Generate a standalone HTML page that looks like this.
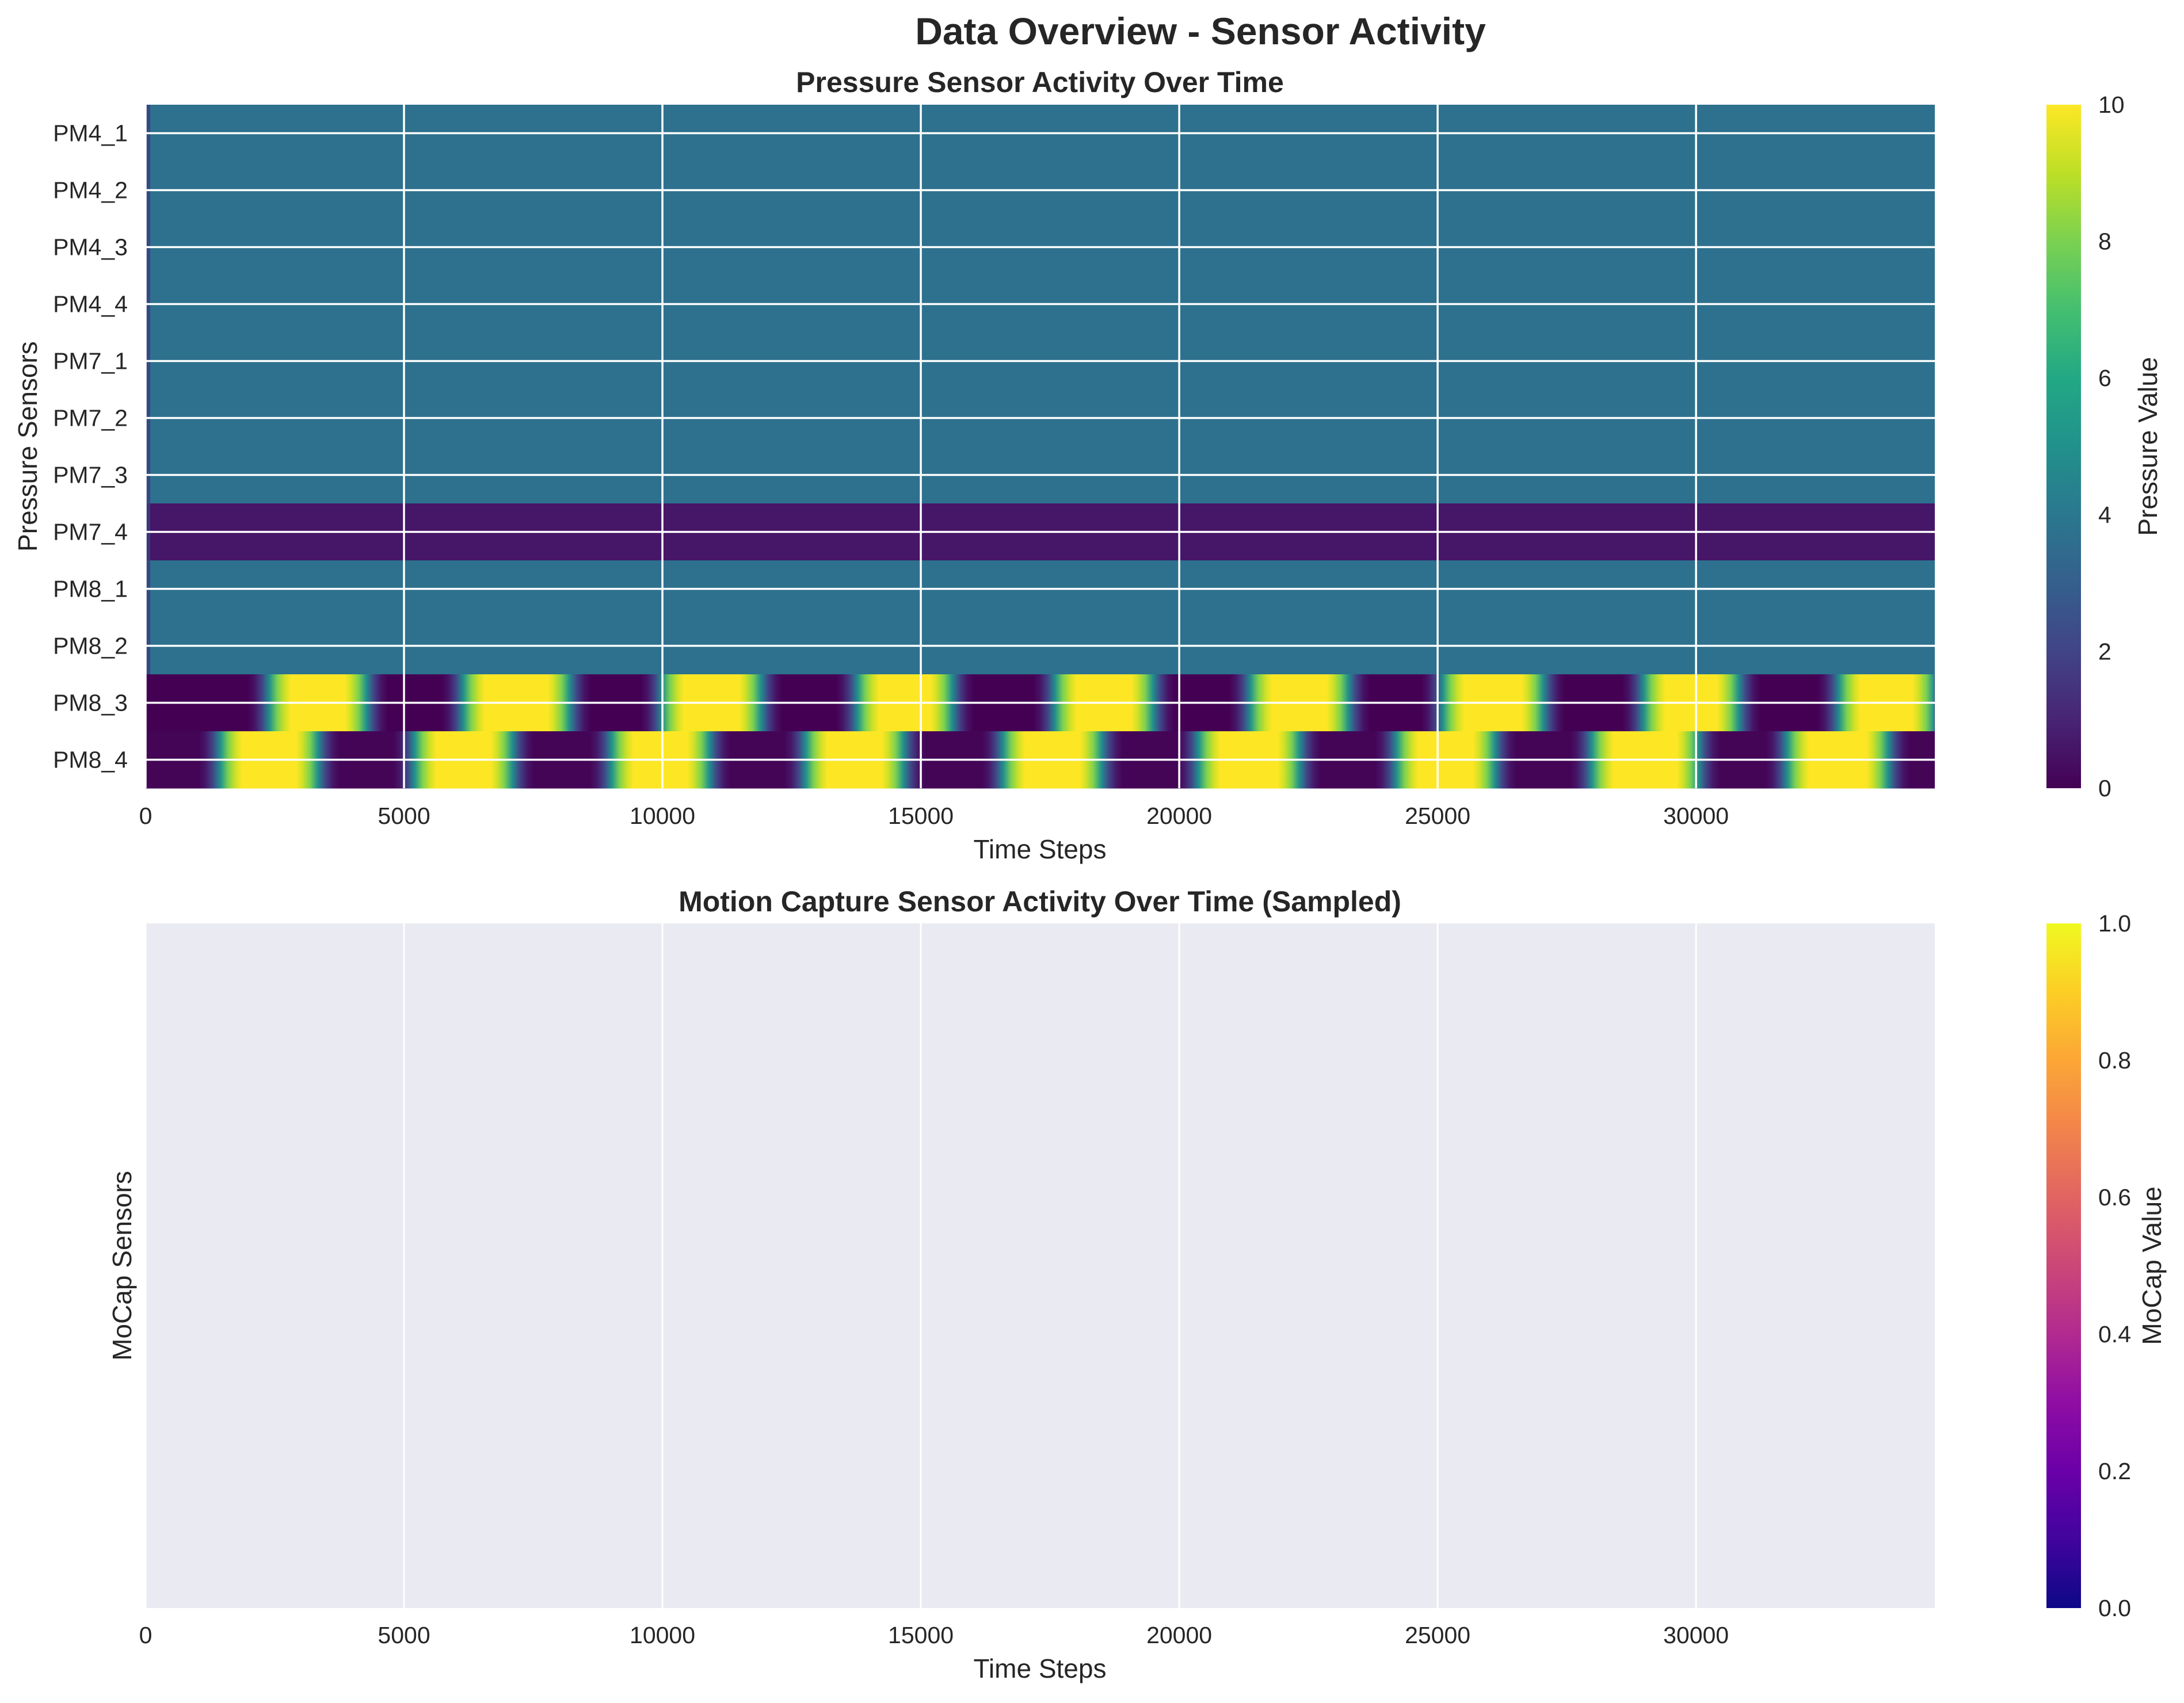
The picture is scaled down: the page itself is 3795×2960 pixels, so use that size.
<!DOCTYPE html>
<html><head><meta charset="utf-8"><style>
html,body{margin:0;padding:0;background:#fff;}
svg text{font-family:"Liberation Sans",sans-serif;fill:#262626;}
</style></head><body>
<svg id="fig" xmlns="http://www.w3.org/2000/svg" width="3795" height="2955" viewBox="0 0 3795 2955">
<defs>
<linearGradient id="viridisBar" x1="0" y1="1" x2="0" y2="0">
<stop offset="0" stop-color="#440154"/><stop offset="0.1" stop-color="#482475"/><stop offset="0.2" stop-color="#414487"/><stop offset="0.3" stop-color="#355f8d"/><stop offset="0.4" stop-color="#2a788e"/><stop offset="0.5" stop-color="#21918c"/><stop offset="0.6" stop-color="#22a884"/><stop offset="0.7" stop-color="#44bf70"/><stop offset="0.8" stop-color="#7ad151"/><stop offset="0.9" stop-color="#bddf26"/><stop offset="1" stop-color="#fde725"/>
</linearGradient>
<linearGradient id="plasmaBar" x1="0" y1="1" x2="0" y2="0">
<stop offset="0" stop-color="#0d0887"/><stop offset="0.1" stop-color="#41049d"/><stop offset="0.2" stop-color="#6a00a8"/><stop offset="0.3" stop-color="#8f0da4"/><stop offset="0.4" stop-color="#b12a90"/><stop offset="0.5" stop-color="#cc4778"/><stop offset="0.6" stop-color="#e16462"/><stop offset="0.7" stop-color="#f2844b"/><stop offset="0.8" stop-color="#fca636"/><stop offset="0.9" stop-color="#fcce25"/><stop offset="1" stop-color="#f0f921"/>
</linearGradient>
</defs>
<text x="2086" y="77" text-anchor="middle" font-size="66" font-weight="bold">Data Overview - Sensor Activity</text>
<text x="1807" y="160" text-anchor="middle" font-size="50" font-weight="bold">Pressure Sensor Activity Over Time</text>
<text x="1807" y="1584" text-anchor="middle" font-size="50" font-weight="bold">Motion Capture Sensor Activity Over Time (Sampled)</text>
<g id="topG"></g>
<g id="botG"></g>
<g id="cbars"></g>
</svg>
<script>
const sensors = ["PM4_1","PM4_2","PM4_3","PM4_4","PM7_1","PM7_2","PM7_3","PM7_4","PM8_1","PM8_2","PM8_3","PM8_4"];
const baseValues = [3.7,3.7,3.7,3.7,3.7,3.7,3.7,0.6,3.7,3.7,0,0];
const pm83Rises = [2400,6150,10000,13780,17600,21380,25100,28990,32770];
const pm83Falls = [4270,8200,11900,15600,19490,23270,27040,30820,34600];
const pm84Rises = [1450,5210,9020,12780,16600,20380,24210,27990,31770];
const pm84Falls = [3330,7090,10900,14660,18490,22320,26100,30040,33710];
const xTicks = [0,5000,10000,15000,20000,25000,30000];
const pressureTicks = [0,2,4,6,8,10];
const mocapTicks = [0,0.2,0.4,0.6,0.8,1.0];
const tMax = 34620, pMax = 10;

const NS = "http://www.w3.org/2000/svg";
const L = 253, R = 3362, T1 = 182, B1 = 1370, T2 = 1605, B2 = 2795;
const xs = t => L + (t / tMax) * (R - L);
const rowH = (B1 - T1) / sensors.length;
const yRow = i => T1 + i * rowH;
function mk(tag, attrs, parent) { const e = document.createElementNS(NS, tag); for (const k in attrs) e.setAttribute(k, attrs[k]); parent.appendChild(e); return e; }
const vir = ["#440154","#482475","#414487","#355f8d","#2a788e","#21918c","#22a884","#44bf70","#7ad151","#bddf26","#fde725"];
function hex(c){return [parseInt(c.slice(1,3),16),parseInt(c.slice(3,5),16),parseInt(c.slice(5,7),16)];}
function viridis(v){ let f=Math.max(0,Math.min(1,v/pMax))*10; let i=Math.min(9,Math.floor(f)); let a=hex(vir[i]),b=hex(vir[i+1]); let u=f-i; return "rgb("+a.map((x,k)=>Math.round(x+(b[k]-x)*u)).join(",")+")"; }

const svgEl = document.getElementById("fig");
const defsEl = svgEl.querySelector("defs");
const topG = document.getElementById("topG");
const rampHalf = 420;
const rampLevels = [0,0.05,0.2,0.5,0.8,0.93,1];
const rampPos = [-1,-0.7,-0.35,0,0.35,0.7,1];
function pulseGradient(id, rises, falls, low) {
  const g = mk("linearGradient", {id: id, gradientUnits: "userSpaceOnUse", x1: L, y1: 0, x2: R, y2: 0}, defsEl);
  const stops = [];
  stops.push([L, low]);
  for (let k = 0; k < rises.length; k++) {
    rampPos.forEach((p, j) => stops.push([xs(rises[k] + p * rampHalf), low + (pMax - low) * rampLevels[j]]));
    rampPos.forEach((p, j) => stops.push([xs(falls[k] + p * rampHalf), low + (pMax - low) * rampLevels[rampLevels.length - 1 - j]]));
  }
  stops.push([R, stops[stops.length - 1][1]]);
  stops.forEach(s => { const off = Math.max(0, Math.min(1, (s[0] - L) / (R - L))); mk("stop", {offset: off, "stop-color": viridis(s[1])}, g); });
  return "url(#" + id + ")";
}
sensors.forEach((name, i) => {
  let fill = viridis(baseValues[i]);
  if (name === "PM8_3") fill = pulseGradient("g83", pm83Rises, pm83Falls, 0);
  if (name === "PM8_4") fill = pulseGradient("g84", pm84Rises, pm84Falls, 0.1);
  const r = mk("rect", {x: L, y: yRow(i), width: R - L, height: rowH + 0.5, fill: fill}, topG);
  
  
  if (i < 10) {
    const e = mk("rect", {x: L, y: yRow(i), width: 8, height: rowH + 0.5, fill: "#3b3f80", opacity: 0.8}, topG);
    
    
  }
});
xTicks.forEach(t => {
  const ln = mk("line", {x1: xs(t), x2: xs(t), y1: T1, y2: B1, stroke: "#fff", "stroke-width": 3.5}, topG);
  
  
  [1432, 2856].forEach(y => {
    const tx = mk("text", {x: xs(t), y: y, "text-anchor": "middle", "font-size": 41}, svgEl);
    tx.textContent = t;
    
    
  });
});
sensors.forEach((name, i) => {
  const yc = yRow(i) + rowH / 2;
  const ln = mk("line", {x1: L, x2: R, y1: yc, y2: yc, stroke: "#fff", "stroke-width": 3.5}, topG);
  
  
  const tx = mk("text", {x: 222, y: yc + 14, "text-anchor": "end", "font-size": 41}, svgEl);
  tx.textContent = name;
  
  
});
function label(txt, x, y, rot, name) {
  const t = mk("text", {x: x, y: y, "text-anchor": "middle", "font-size": 46}, svgEl);
  if (rot) t.setAttribute("transform", "rotate(-90 " + x + " " + y + ")");
  t.textContent = txt;
  
  
}
label("Time Steps", 1807, 1492, false, "x-axis-title");
label("Time Steps", 1807, 2916, false, "x-axis-title-mocap");
label("Pressure Sensors", 64, 776, true, "y-axis-title");
label("MoCap Sensors", 228, 2200, true, "y-axis-title-mocap");
label("Pressure Value", 3748, 776, true, "colorbar-title-pressure");
label("MoCap Value", 3755, 2200, true, "colorbar-title-mocap");

const botG = document.getElementById("botG");
const bg = mk("rect", {x: L, y: T2, width: R - L, height: B2 - T2, fill: "#eaeaf2"}, botG);


xTicks.forEach(t => {
  const ln = mk("line", {x1: xs(t), x2: xs(t), y1: T2, y2: B2, stroke: "#fff", "stroke-width": 3}, botG);
  
  
});

const cb = document.getElementById("cbars");
const CX = 3556, CW = 60;
const c1 = mk("rect", {x: CX, y: T1, width: CW, height: B1 - T1, fill: "url(#viridisBar)"}, cb);


const c2 = mk("rect", {x: CX, y: T2, width: CW, height: B2 - T2, fill: "url(#plasmaBar)"}, cb);


pressureTicks.forEach(v => {
  const y = B1 - (v / pMax) * (B1 - T1);
  const t = mk("text", {x: 3646, y: y + 14, "font-size": 41}, cb);
  t.textContent = v;
  
  
});
mocapTicks.forEach(v => {
  const y = B2 - v * (B2 - T2);
  const t = mk("text", {x: 3646, y: y + 14, "font-size": 41}, cb);
  t.textContent = v.toFixed(1);
  
  
});
</script>
</body></html>
